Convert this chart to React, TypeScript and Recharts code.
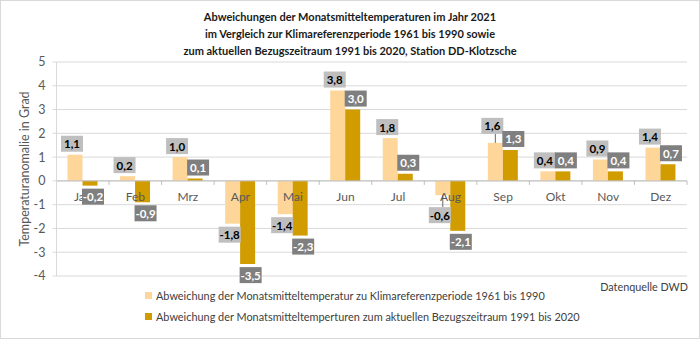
import React from 'react';
import {
  BarChart,
  Bar,
  XAxis,
  YAxis,
  CartesianGrid,
  ReferenceLine,
  LabelList,
  Label,
} from 'recharts';

// ---------- data ----------
const MONTHS = ['Jan', 'Feb', 'Mrz', 'Apr', 'Mai', 'Jun', 'Jul', 'Aug', 'Sep', 'Okt', 'Nov', 'Dez'];
const DEV_1961_1990 = [1.1, 0.2, 1.0, -1.8, -1.4, 3.8, 1.8, -0.6, 1.6, 0.4, 0.9, 1.4];
const DEV_1991_2020 = [-0.2, -0.9, 0.1, -3.5, -2.3, 3.0, 0.3, -2.1, 1.3, 0.4, 0.4, 0.7];
const Y_TICKS = [-4, -3, -2, -1, 0, 1, 2, 3, 4, 5];

const TITLE_LINES = [
  'Abweichungen der Monatsmitteltemperaturen im Jahr 2021',
  'im Vergleich zur Klimareferenzperiode 1961 bis 1990 sowie',
  'zum aktuellen Bezugszeitraum 1991 bis 2020, Station DD-Klotzsche',
];
const SERIES_NAMES = [
  'Abweichung der Monatsmitteltemperatur zu Klimareferenzperiode 1961 bis 1990',
  'Abweichung der Monatsmitteltemperturen zum aktuellen Bezugszeitraum 1991 bis 2020',
];
const Y_LABEL = 'Temperaturanomalie in Grad';
const SOURCE = 'Datenquelle DWD';

const data = MONTHS.map((m, i) => ({ month: m, a: DEV_1961_1990[i], b: DEV_1991_2020[i] }));

// ---------- layout / style ----------
const W = 700;
const H = 339;
const FONT = 'Lato, "Open Sans", sans-serif';
const LIGHT = '#FFD699';
const DARK = '#D19C00';
const GRID = '#D9D9D9';
const AXIS = '#BFBFBF';
const TEXT = '#595959';

const MARGIN = { top: 62, right: 13, bottom: 33, left: 0 };
const Y_AXIS_W = 56.5;
const X_AXIS_H = 30;
const PLOT_TOP = MARGIN.top;
const PLOT_H = H - MARGIN.top - MARGIN.bottom - X_AXIS_H;
const PLOT_W = W - MARGIN.left - MARGIN.right - Y_AXIS_W;
const Y_MIN = Y_TICKS[0];
const Y_MAX = Y_TICKS[Y_TICKS.length - 1];
const ZERO_Y = PLOT_TOP + (PLOT_H * (Y_MAX - 0)) / (Y_MAX - Y_MIN);
const BAND = PLOT_W / MONTHS.length;

// manual nudges of a few labels (as in the original chart)
const LIGHT_NUDGE: Record<string, number> = { Aug: 9, Sep: -6 };

const fmt = (v: number) => v.toFixed(1).replace('.', ',');

const makeLabel = (series: 'a' | 'b') => (props: any) => {
  const { x, y, width, height, value, index } = props;
  const v = Number(value);
  const top = Math.min(y, y + height);
  const bottom = Math.max(y, y + height);
  const barCx = x + width / 2;
  const cx = barCx + (series === 'a' ? -3 : 3);
  const BW = 22;
  const BH = 16;
  const GAP = 3;
  const nudge = series === 'a' ? LIGHT_NUDGE[MONTHS[index]] ?? 0 : 0;
  const boxY = v >= 0 ? top - GAP - BH + nudge : bottom + GAP + nudge;
  const fill = series === 'a' ? '#BFBFBF' : '#7F7F7F';
  const color = series === 'a' ? '#000000' : '#FFFFFF';
  let leader: React.ReactNode = null;
  if (nudge !== 0) {
    if (v >= 0) {
      leader = <line x1={barCx} x2={barCx} y1={boxY + BH} y2={top} stroke="#404040" strokeWidth={0.8} />;
    } else {
      leader = <line x1={barCx} x2={barCx} y1={bottom} y2={boxY} stroke="#404040" strokeWidth={0.8} />;
    }
  }
  return (
    <g>
      {leader}
      <rect x={cx - BW / 2} y={boxY} width={BW} height={BH} fill={fill} />
      <text
        x={cx}
        y={boxY + BH / 2}
        textAnchor="middle"
        dominantBaseline="central"
        fontFamily={FONT}
        fontWeight="bold"
        fontSize={11.5}
        fill={color}
      >
        {fmt(v)}
      </text>
    </g>
  );
};

const MonthTick = (props: any) => {
  const { x, payload, index } = props;
  const left = x - BAND / 2;
  const right = x + BAND / 2;
  return (
    <g>
      {index > 0 && <line x1={left} x2={left} y1={ZERO_Y} y2={ZERO_Y + 4} stroke={AXIS} />}
      {index === MONTHS.length - 1 && <line x1={right} x2={right} y1={ZERO_Y} y2={ZERO_Y + 4} stroke={AXIS} />}
      <text
        x={x}
        y={ZERO_Y + 16}
        textAnchor="middle"
        dominantBaseline="central"
        fontFamily={FONT}
        fontSize={12}
        fill={TEXT}
      >
        {payload.value}
      </text>
    </g>
  );
};

const YLabel = () => (
  <text
    x={24}
    y={169}
    transform={`rotate(-90 24 169)`}
    textAnchor="middle"
    dominantBaseline="central"
    fontFamily={FONT}
    fontSize={12.5}
    fill={TEXT}
  >
    {Y_LABEL}
  </text>
);

export default function App() {
  return (
    <div
      style={{
        position: 'absolute',
        left: 0,
        top: 0,
        width: W,
        height: H,
        background: '#FFFFFF',
        fontFamily: FONT,
        overflow: 'hidden',
      }}
    >
      <div style={{ position: 'absolute', left: 0, top: 0 }}>
        <BarChart width={W} height={H} data={data} margin={MARGIN} barGap={0} barSize={15}>
          <CartesianGrid vertical={false} stroke={GRID} />
          <XAxis
            dataKey="month"
            height={X_AXIS_H}
            axisLine={false}
            tickLine={false}
            interval={0}
            tick={<MonthTick />}
          />
          <YAxis
            width={Y_AXIS_W}
            domain={[Y_MIN, Y_MAX]}
            ticks={Y_TICKS}
            interval={0}
            axisLine={{ stroke: GRID }}
            tickLine={{ stroke: GRID }}
            tickSize={4}
            tickMargin={7}
            tick={{ fill: TEXT, fontSize: 12.5, fontFamily: FONT }}
          >
            <Label content={<YLabel />} />
          </YAxis>
          <ReferenceLine y={0} stroke={AXIS} />
          <Bar dataKey="a" fill={LIGHT} isAnimationActive={false}>
            <LabelList dataKey="a" content={makeLabel('a')} />
          </Bar>
          <Bar dataKey="b" fill={DARK} isAnimationActive={false}>
            <LabelList dataKey="b" content={makeLabel('b')} />
          </Bar>
        </BarChart>
      </div>

      <div
        style={{
          position: 'absolute',
          left: 0,
          top: 8,
          width: W,
          textAlign: 'center',
          fontWeight: 'bold',
          fontSize: 11,
          lineHeight: '17px',
          color: '#1A1A1A',
        }}
      >
        {TITLE_LINES.map((t) => (
          <div key={t}>{t}</div>
        ))}
      </div>

      <div
        style={{
          position: 'absolute',
          right: 12,
          top: 279,
          fontSize: 10.8,
          lineHeight: '16px',
          color: '#404040',
        }}
      >
        {SOURCE}
      </div>

      <div style={{ position: 'absolute', left: 145, top: 285, fontSize: 10.9, color: '#404040' }}>
        {SERIES_NAMES.map((name, i) => (
          <div key={name} style={{ display: 'flex', alignItems: 'center', height: 21, lineHeight: '21px' }}>
            <span
              style={{
                display: 'inline-block',
                width: 7,
                height: 7,
                background: i === 0 ? LIGHT : DARK,
                marginRight: 4,
              }}
            />
            <span>{name}</span>
          </div>
        ))}
      </div>

      <div
        style={{
          position: 'absolute',
          left: 0,
          top: 0,
          width: W,
          height: H,
          boxSizing: 'border-box',
          border: `1px solid ${GRID}`,
          pointerEvents: 'none',
        }}
      />
    </div>
  );
}
